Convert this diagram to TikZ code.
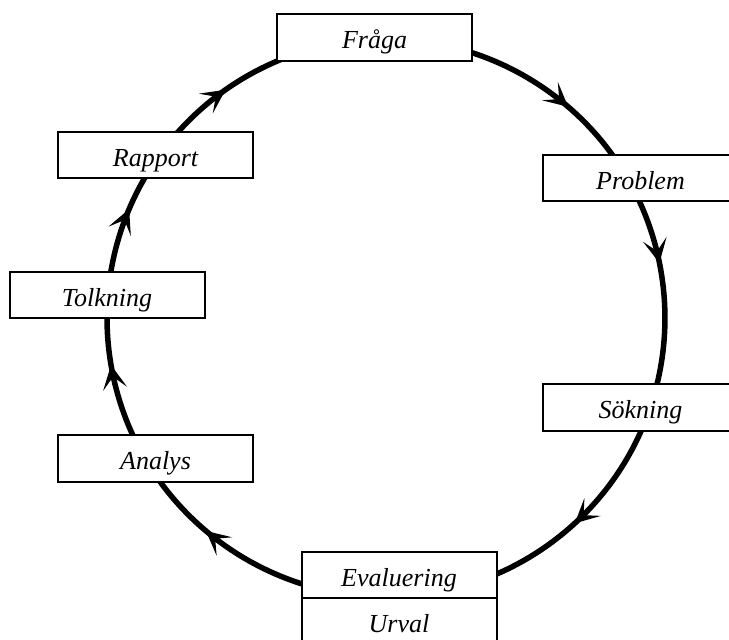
\documentclass[tikz,border=0pt]{standalone}
\usepackage{fontspec}
\setmainfont{Liberation Serif}
\usetikzlibrary{positioning, calc, arrows.meta, decorations.markings}
\tikzset{
  stage/.style={
    rectangle,
    draw=black, line width=1pt,
    fill=white,
    minimum width=97.5pt, minimum height=23.25pt,
    inner sep=0pt, outer sep=0pt,
    text height=11.5pt, text depth=0pt,
    font=\fontsize{13}{15}\selectfont\itshape
  },
  flow/.style={
    line width=2.75pt,
    postaction={decorate},
    decoration={markings, mark=at position #1 with {\arrow{>}}}
  }
}
\begin{document}
\begin{tikzpicture}[x=0.5pt, y=0.5pt, >={Stealth[length=12pt, width=12pt, inset=6pt]}]
  \useasboundingbox (0,0) rectangle (729,640);
  \clip (0,0) rectangle (729,640);

  \coordinate (c) at (386,322);
  \foreach \name/\ang in {Fraga/90, Problem/30, Sokning/-19, Eval/-90,
                          Analys/210, Tolkning/175, Rapport/144}
    \coordinate (p\name) at ($(c)+(\ang:279)$);

  \draw[flow=0.68] (pFraga) to[bend left=30, looseness=0.91] (pProblem);
  \draw[flow=0.38] (pProblem) to[bend left=24.5, looseness=0.89] (pSokning);
  \draw[flow=0.40] (pSokning) to[bend left=35.5, looseness=0.94] (pEval);
  \draw[flow=0.67] (pEval) to[bend left=30, looseness=0.91] (pAnalys);
  \draw[flow=0.58] (pAnalys) to[bend left=17.5, looseness=0.87] (pTolkning);
  \draw[flow=0.58] (pTolkning) to[bend left=15.5, looseness=0.87] (pRapport);
  \draw[flow=0.35] (pRapport) to[bend left=27, looseness=0.90] (pFraga);

  \node[stage] (fraga) at (374.5,602.5) {Fråga};
  \node[stage] (problem) at (640.5,462) {Problem};
  \node[stage] (sokning) at (640.5,232.5) {Sökning};
  \node[stage] (eval) at (399,65) {Evaluering};
  \node[stage] (urval) [below=0pt of eval] {Urval};
  \node[stage] (analys) at (155.5,181.5) {Analys};
  \node[stage] (tolkning) at (107,345) {Tolkning};
  \node[stage] (rapport) at (155.5,485) {Rapport};
\end{tikzpicture}
\end{document}
